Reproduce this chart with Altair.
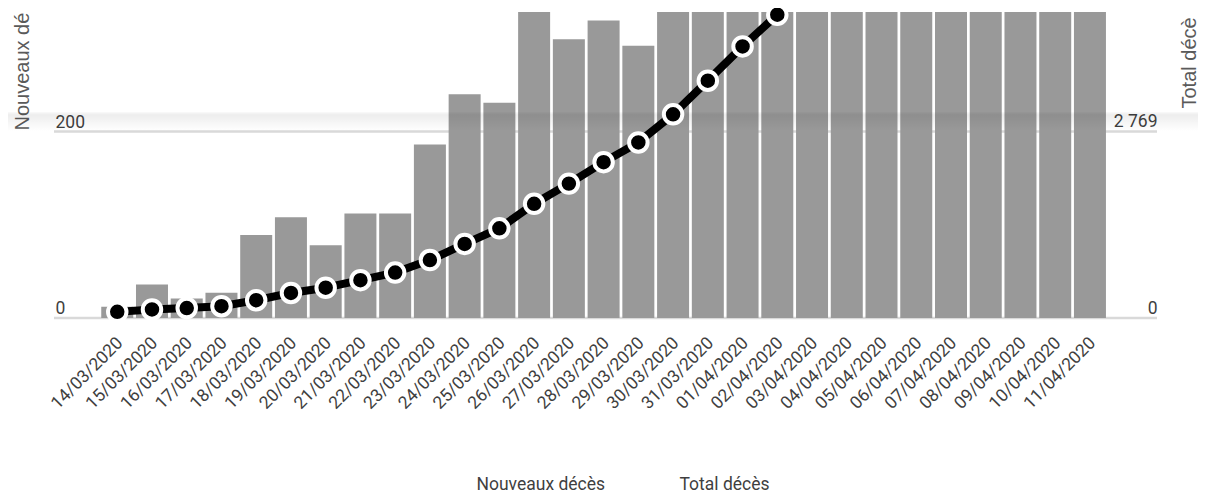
import altair as alt
import pandas as pd

dates = ["14/03/2020", "15/03/2020", "16/03/2020", "17/03/2020", "18/03/2020",
         "19/03/2020", "20/03/2020", "21/03/2020", "22/03/2020", "23/03/2020",
         "24/03/2020", "25/03/2020", "26/03/2020", "27/03/2020", "28/03/2020",
         "29/03/2020", "30/03/2020", "31/03/2020", "01/04/2020", "02/04/2020",
         "03/04/2020", "04/04/2020", "05/04/2020", "06/04/2020", "07/04/2020",
         "08/04/2020", "09/04/2020", "10/04/2020", "11/04/2020"]
nouveaux = [12, 36, 21, 27, 89, 108, 78, 112, 112, 186,
            240, 231, 365, 299, 319, 292, 418, 499, 509, 471,
            588, 1053, 518, 833, 1417, 541, 1341, 987, 635]
total = [91, 127, 148, 175, 264, 372, 450, 562, 674, 860,
         1100, 1331, 1696, 1995, 2314, 2606, 3024, 3523, 4032, 4503,
         5091, 6507, 7560, 8078, 8911, 10328, 10869, 12210, 13832]
series = ["Nouveaux décès", "Total décès"]
left_ticks = [0, 200]
right_ticks = [0, 2769]
left_max = 328.2
right_max = 4543

df = pd.DataFrame({"date": dates, "nouveaux": nouveaux, "total": total,
                   "s_bar": series[0], "s_line": series[1]})
grid_df = pd.DataFrame({"nouveaux": left_ticks})

W, H = 1103, 306
FONT = "Roboto"
LABEL_COLOR = "#3f3f3f"
TITLE_COLOR = "#5a5a5a"

xenc = alt.X("date:N", sort=None,
             scale=alt.Scale(range=[47.25, 1051.95], paddingInner=0.079, paddingOuter=0),
             axis=alt.Axis(title=None, orient="bottom", domain=False, ticks=False, grid=False,
                           labelAngle=-45, labelAlign="right", labelBaseline="middle",
                           labelPadding=22, labelOffset=3, labelFont=FONT, labelFontSize=17.5,
                           labelColor=LABEL_COLOR, labelOverlap=False, labelLimit=300))

color_scale = alt.Scale(domain=series, range=["#999999", "#000000"])
legend = alt.Legend(title=None, orient="none", legendX=405, legendY=464, direction="horizontal",
                    symbolSize=0, symbolOpacity=0, symbolStrokeWidth=0, labelOffset=0,
                    columnPadding=56, padding=0, labelFont=FONT, labelFontSize=17.5,
                    labelColor=LABEL_COLOR)

yleft = alt.Y("nouveaux:Q", scale=alt.Scale(domain=[0, left_max], nice=False, zero=True),
              axis=alt.Axis(orient="left", values=left_ticks, grid=False,
                            domain=False, ticks=False, tickSize=0,
                            labelAlign="left", labelBaseline="alphabetic", labelPadding=-1,
                            labelOffset=-4.5, labelFont=FONT, labelFontSize=17.5,
                            labelColor=LABEL_COLOR,
                            title="Nouveaux dé", titleX=-26, titleY=118, titleAngle=270,
                            titleAlign="left", titleBaseline="alphabetic",
                            titleFont="Liberation Sans", titleFontSize=20,
                            titleFontWeight="normal", titleColor=TITLE_COLOR))

gridlines = alt.Chart(grid_df).mark_rule(color="#d9d9d9", strokeWidth=2.5).encode(
    y=yleft, x=alt.value(0), x2=alt.value(W))

bars = alt.Chart(df).mark_bar(clip=True).encode(
    x=xenc,
    y=yleft,
    color=alt.Color("s_bar:N", scale=color_scale, legend=legend),
)

band = alt.Chart(pd.DataFrame({"k": [0]})).mark_rect(
    clip=False,
    color=alt.LinearGradient(
        gradient="linear", x1=0, x2=0, y1=0, y2=1,
        stops=[alt.GradientStop(color="rgba(0,0,0,0.02)", offset=0),
               alt.GradientStop(color="rgba(0,0,0,0.07)", offset=0.15),
               alt.GradientStop(color="rgba(0,0,0,0.0)", offset=1)]),
).encode(x=alt.value(-54), x2=alt.value(1152), y=alt.value(100), y2=alt.value(119))

yright = alt.Y("total:Q", scale=alt.Scale(domain=[0, right_max], nice=False, zero=True),
               axis=alt.Axis(orient="right", values=right_ticks, grid=False, domain=False,
                             ticks=False, tickSize=0, labelAlign="right",
                             labelBaseline="alphabetic", labelPadding=0, labelOffset=-4.5,
                             labelFont=FONT, labelFontSize=17.5, labelColor=LABEL_COLOR,
                             labelExpr="replace(format(datum.value, ','), ',', ' ')",
                             title="Total décè", titleX=38, titleY=96, titleAngle=270,
                             titleAlign="left", titleBaseline="alphabetic",
                             titleFont="Liberation Sans", titleFontSize=20,
                             titleFontWeight="normal", titleColor=TITLE_COLOR))

line = alt.Chart(df).mark_line(clip=True, strokeWidth=8, strokeJoin="round").encode(
    x=xenc, y=yright,
    color=alt.Color("s_line:N", scale=color_scale, legend=legend),
)
points = alt.Chart(df).mark_circle(fill="black", stroke="white", strokeWidth=4,
                                   size=342, opacity=1).encode(x=xenc, y=alt.Y("total:Q"))

chart = alt.layer(alt.layer(gridlines, bars), band, alt.layer(line, points)).resolve_scale(
    y="independent"
).properties(
    width=W, height=H,
    autosize=alt.AutoSizeParams(type="none"),
    padding={"left": 46, "top": 4, "right": 41, "bottom": 176},
).configure_view(stroke=None)

chart.save("out.html", embed_options={"renderer": "svg", "actions": False})
